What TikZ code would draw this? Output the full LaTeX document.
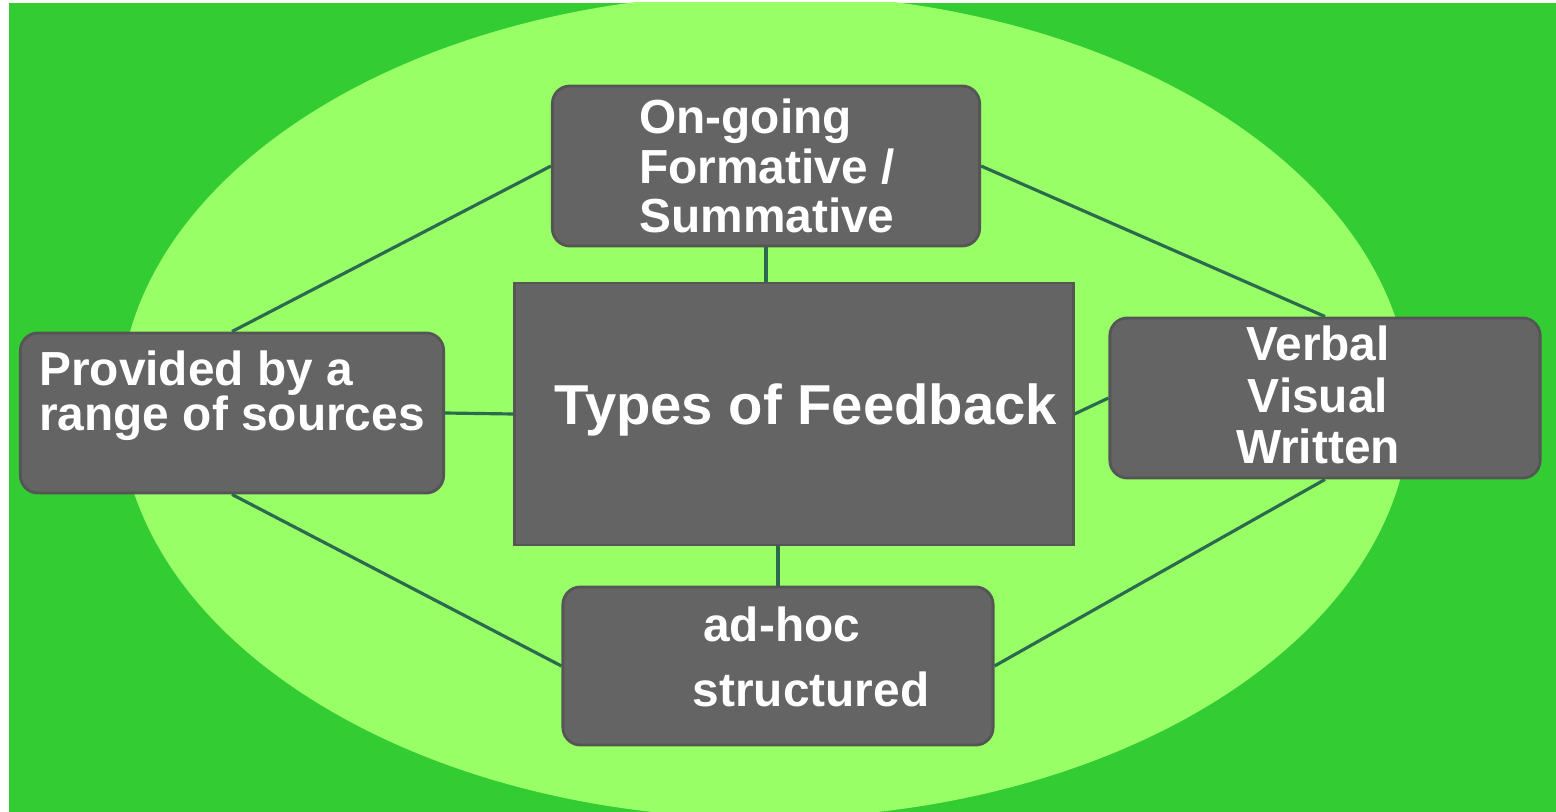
\documentclass[tikz,border=0pt]{standalone}
\usepackage{tikz}
\usepackage{fontspec}
\setmainfont{Liberation Sans}
\usetikzlibrary{arrows,shapes}
\definecolor{darkgreen}{HTML}{33CC33}
\definecolor{lightgreen}{HTML}{99FF66}
\definecolor{boxgray}{HTML}{646464}
\definecolor{linkgreen}{HTML}{2C6A50}
\tikzstyle{box}=[rectangle,rounded corners=5pt,fill=boxgray,draw=boxgray!85!black,line width=0.8pt,inner sep=0pt]
\tikzstyle{boxtext}=[text=white,inner sep=0pt]
\tikzstyle{edge} = [draw,linkgreen,line width=0.9pt,-]

\begin{document}
\begin{tikzpicture}[x=0.01cm,y=-0.01cm]
    % Background and the big ellipse
    \useasboundingbox (0,0) rectangle (1556,812);
    \fill[white] (0,0) rectangle (1556,812);
    \fill[darkgreen] (9,3) rectangle (1556,812);
    \begin{scope}
        \clip (9,3) rectangle (1556,812);
        \fill[lightgreen] (765,406) ellipse [x radius=6.45cm, y radius=4.12cm];
    \end{scope}

    % First we draw the boxes
    \foreach \pos/\name/\w/\h in {{(766,166)/ongoing/4.27cm/1.60cm}, {(232,413)/sources/4.23cm/1.60cm}, {(1325,398)/media/4.30cm/1.60cm}, {(778,666)/adhoc/4.30cm/1.58cm}}
        \node[box,minimum width=\w,minimum height=\h] (\name) at \pos {};
    \node[box,rounded corners=0pt,minimum width=5.58cm,minimum height=2.62cm] (feedback) at (794,414) {};

    % Then the texts in the boxes
    \node[boxtext,align=left,font=\fontsize{13.6}{14}\selectfont\bfseries] (ongoing-txt) at (767,166) {On-going\\Formative /\\Summative};
    \node[boxtext,align=left,font=\fontsize{13.6}{12.8}\selectfont\bfseries] (sources-txt) at (232,396) {Provided by a\\range of sources};
    \node[boxtext,align=center,font=\fontsize{13.6}{14.7}\selectfont\bfseries] (media-txt) at (1318,395) {Verbal\\Visual\\Written};
    \node[boxtext,align=left,font=\fontsize{13.6}{18.5}\selectfont\bfseries] (adhoc-txt) at (811,657) {\hspace{3pt}ad-hoc\\structured};
    \node[boxtext,font=\fontsize{16}{19}\selectfont\bfseries] (feedback-txt) at (806,410) {Types of Feedback};

    % Connect boxes with lines
    \foreach \source/\dest in {ongoing.west/sources.north, ongoing.east/media.north, sources.south/adhoc.west, media.south/adhoc.east, sources.east/feedback.west, feedback.east/media.west}
        \path[edge] (\source) -- (\dest);
    \path[edge] (ongoing.south) -- (ongoing.south |- feedback.north);
    \path[edge] (adhoc.north |- feedback.south) -- (adhoc.north);
\end{tikzpicture}
\end{document}
